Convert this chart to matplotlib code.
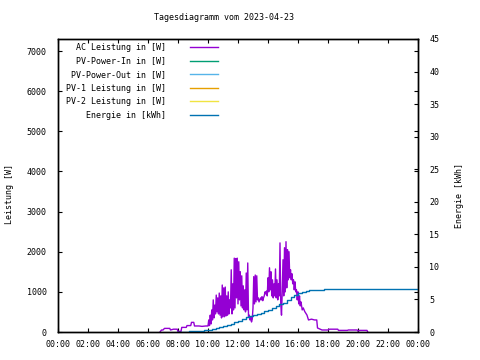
import numpy as np
import matplotlib
matplotlib.use("Agg")
import matplotlib.pyplot as plt

# AC power readings (hour of day, watts)
ac_hours = [6.80, 6.90, 7.00, 7.10, 7.25, 7.45, 7.50, 7.70, 7.95, 8.00, 8.20, 8.25,
            8.55, 8.60, 8.85, 8.90, 9.05, 9.10, 9.40, 9.60, 9.85,
            10.00, 10.05, 10.10, 10.15, 10.20, 10.25, 10.30, 10.35, 10.40, 10.45,
            10.50, 10.55, 10.60, 10.65, 10.70, 10.75, 10.80, 10.85, 10.90, 10.95,
            11.00, 11.05, 11.10, 11.15, 11.20, 11.25, 11.30, 11.35, 11.40, 11.45,
            11.50, 11.55, 11.60, 11.65, 11.70, 11.75, 11.80, 11.85, 11.90, 11.95,
            12.00, 12.05, 12.10, 12.15, 12.20, 12.25, 12.30, 12.35, 12.40, 12.45,
            12.50, 12.55, 12.60, 12.65, 12.70, 12.75, 12.80, 12.85, 12.90, 12.95,
            13.00, 13.05, 13.10, 13.15, 13.20, 13.25, 13.30, 13.35, 13.40, 13.45,
            13.50, 13.55, 13.60, 13.65, 13.70, 13.75, 13.80, 13.85, 13.90, 13.95,
            14.00, 14.05, 14.10, 14.15, 14.20, 14.25, 14.30, 14.35, 14.40, 14.45,
            14.50, 14.55, 14.60, 14.65, 14.70, 14.75, 14.80, 14.85, 14.90, 14.95,
            15.00, 15.05, 15.10, 15.15, 15.20, 15.25, 15.30, 15.35, 15.40, 15.45,
            15.50, 15.55, 15.60, 15.65, 15.70, 15.75, 15.80, 15.85, 15.90, 15.95,
            16.00, 16.05, 16.10, 16.15, 16.20, 16.28, 16.35, 16.45, 16.60, 16.70,
            16.90, 17.10, 17.25, 17.30, 17.60, 18.00, 18.10, 18.65, 18.70, 19.30,
            19.35, 19.95, 20.00, 20.10, 20.60, 20.65]
ac_watts = [0, 50, 50, 90, 90, 90, 50, 70, 70, 15, 15, 115,
            115, 160, 160, 240, 240, 150, 150, 140, 150,
            150, 300, 160, 420, 200, 550, 300, 800, 350, 670,
            450, 920, 500, 850, 450, 970, 420, 900, 350, 1170,
            380, 1100, 380, 1120, 400, 900, 420, 1000, 450, 800,
            600, 1550, 450, 1200, 550, 1840, 600, 1830, 850, 1840,
            700, 1750, 800, 1500, 650, 1400, 600, 1150, 550, 1050,
            500, 1470, 550, 1720, 380, 420, 300, 370, 250, 320,
            600, 1380, 700, 1420, 750, 1400, 800, 850, 750, 800,
            850, 800, 880, 780, 850, 900, 1000, 950, 1020, 900,
            1350, 1000, 1600, 1050, 1500, 900, 1300, 850, 1200, 900,
            1570, 850, 1300, 800, 1200, 900, 2220, 700, 420, 1000,
            1800, 900, 2100, 1000, 2250, 1100, 2050, 1300, 2000, 1350,
            1550, 1300, 1450, 1200, 1300, 1050, 1250, 1000, 1050, 800,
            1000, 700, 900, 650, 750, 550, 600, 510, 420, 300,
            320, 300, 300, 100, 50, 50, 70, 70, 40, 40,
            50, 50, 20, 40, 40, 0]

# daily energy (hour of day, kWh)
energy_hours = [7.90, 8.25, 8.50, 8.75, 9.00, 9.25, 9.50, 9.75, 10.00, 10.25, 10.50,
                10.75, 11.00, 11.25, 11.50, 11.75, 12.00, 12.25, 12.50, 12.75, 13.00,
                13.25, 13.50, 13.75, 14.00, 14.25, 14.50, 14.75, 15.00, 15.25, 15.50,
                15.75, 16.00, 16.25, 16.50, 16.75, 17.00, 17.25, 17.50, 17.75, 18.00, 24.00]
energy_kwh = [0.00, 0.02, 0.05, 0.08, 0.12, 0.16, 0.20, 0.25, 0.30, 0.40, 0.55,
              0.70, 0.90, 1.10, 1.30, 1.50, 1.75, 2.00, 2.25, 2.40, 2.55,
              2.75, 2.95, 3.15, 3.40, 3.70, 4.00, 4.25, 4.50, 4.90, 5.35,
              5.75, 6.00, 6.20, 6.30, 6.38, 6.42, 6.47, 6.50, 6.53, 6.55, 6.55]

# series without readings on this day
pv_in_watts = []
pv_out_watts = []
pv1_watts = []
pv2_watts = []

tick_hours = list(range(0, 25, 2))
tick_labels = ["%02d:00" % (h % 24) for h in tick_hours]

FONT = "DejaVu Sans Mono"
FS = 6
plt.rcParams["font.family"] = FONT
plt.rcParams["font.size"] = FS

fig = plt.figure(figsize=(4.8, 3.6), dpi=100)
ax = fig.add_axes([58 / 480, 28 / 360, 360 / 480, 293 / 360])
ax2 = ax.twinx()

l_ac, = ax.plot(ac_hours, ac_watts, color="#9400d3", lw=1.0)
l_in, = ax.plot(pv_in_watts, pv_in_watts, color="#009e73", lw=1.0)
l_out, = ax.plot(pv_out_watts, pv_out_watts, color="#56b4e9", lw=1.0)
l_pv1, = ax.plot(pv1_watts, pv1_watts, color="#e69f00", lw=1.0)
l_pv2, = ax.plot(pv2_watts, pv2_watts, color="#f0e442", lw=1.0)
l_en, = ax2.plot(energy_hours, energy_kwh, color="#0072b2", lw=1.0,
                 drawstyle="steps-post")

ax.set_xlim(0, 24)
ax.set_ylim(0, 7300)
ax2.set_ylim(0, 45)
ax.set_xticks(tick_hours)
ax.set_xticklabels(tick_labels)
ax.set_yticks(range(0, 7001, 1000))
ax2.set_yticks(range(0, 46, 5))

ax.tick_params(direction="in", length=3, width=0.8, top=True, right=True,
               left=True, labelsize=FS, pad=8)
ax.tick_params(axis="x", pad=6)
ax2.tick_params(direction="in", length=3, width=0.8, labelsize=FS, pad=8)
for a in (ax, ax2):
    for s in a.spines.values():
        s.set_linewidth(1.0)

fig.text(224 / 480, 1 - 18 / 360, "Tagesdiagramm vom 2023-04-23",
         ha="center", va="center", fontsize=FS)
fig.text(10 / 480, 1 - 194 / 360, "Leistung [W]", rotation=90,
         ha="center", va="center", fontsize=FS)
fig.text(459 / 480, 1 - 195 / 360, "Energie [kWh]", rotation=90,
         ha="center", va="center", fontsize=FS)

handles = [l_ac, l_in, l_out, l_pv1, l_pv2, l_en]
labels = ["AC Leistung in [W]", "PV-Power-In in [W]", "PV-Power-Out in [W]",
          "PV-1 Leistung in [W]", "PV-2 Leistung in [W]", "Energie in [kWh]"]
ax2.legend(handles, labels, loc="upper right", markerfirst=False,
           alignment="right", frameon=False, fontsize=FS,
           bbox_to_anchor=(218 / 480, 1 - 43 / 360),
           bbox_transform=fig.transFigure, borderpad=0, borderaxespad=0,
           handlelength=3.4, handletextpad=2.8, labelspacing=0.55)

fig.savefig("out.png", dpi=100)
